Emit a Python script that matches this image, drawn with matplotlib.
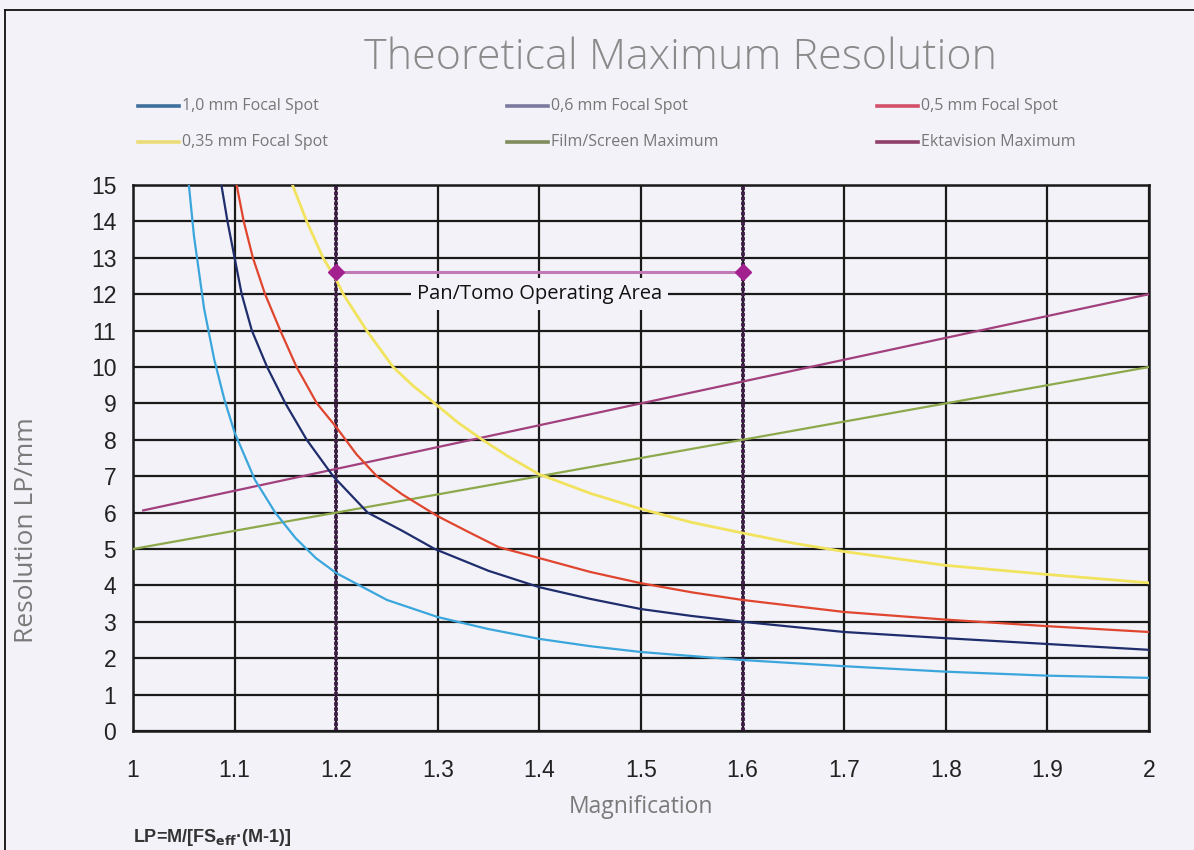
import matplotlib
matplotlib.use("Agg")
import matplotlib.pyplot as plt
from matplotlib.lines import Line2D

# ---------------- data ----------------
m_10 = [1.055, 1.06, 1.07, 1.08, 1.09, 1.10, 1.12, 1.14, 1.16, 1.18, 1.20, 1.25, 1.30,
        1.35, 1.40, 1.45, 1.50, 1.60, 1.70, 1.80, 1.90, 2.00]
lp_10 = [15.0, 13.6, 11.6, 10.2, 9.1, 8.2, 6.9, 6.0, 5.3, 4.75, 4.34, 3.6, 3.13,
         2.8, 2.53, 2.33, 2.17, 1.95, 1.78, 1.63, 1.52, 1.46]

m_06 = [1.087, 1.093, 1.10, 1.107, 1.117, 1.132, 1.15, 1.171, 1.197, 1.231, 1.265, 1.297,
        1.35, 1.40, 1.45, 1.50, 1.55, 1.60, 1.70, 1.80, 1.90, 2.00]
lp_06 = [15.0, 14.0, 13.0, 12.0, 11.0, 10.0, 9.0, 8.0, 7.0, 6.0, 5.5, 5.0,
         4.4, 3.95, 3.63, 3.35, 3.16, 3.0, 2.72, 2.55, 2.39, 2.23]

m_05 = [1.102, 1.109, 1.118, 1.130, 1.145, 1.161, 1.181, 1.20, 1.22, 1.24, 1.265, 1.30,
        1.33, 1.36, 1.40, 1.45, 1.50, 1.55, 1.60, 1.70, 1.80, 1.90, 2.00]
lp_05 = [15.0, 14.0, 13.0, 12.0, 11.0, 10.0, 9.0, 8.35, 7.6, 7.0, 6.5, 5.9,
         5.47, 5.05, 4.75, 4.37, 4.06, 3.81, 3.6, 3.27, 3.06, 2.88, 2.72]

m_035 = [1.157, 1.171, 1.187, 1.20, 1.207, 1.23, 1.256, 1.275, 1.297, 1.32, 1.344, 1.37,
         1.40, 1.45, 1.50, 1.55, 1.60, 1.65, 1.70, 1.80, 1.90, 2.00]
lp_035 = [15.0, 14.0, 13.0, 12.4, 12.0, 11.0, 10.0, 9.5, 9.0, 8.47, 8.0, 7.53,
          7.05, 6.53, 6.1, 5.73, 5.44, 5.16, 4.93, 4.55, 4.3, 4.07]

m_film = [1.0, 2.0]
lp_film = [5.0, 10.0]

m_ekta = [1.01, 2.0]
lp_ekta = [6.06, 12.0]

pan_tomo_m = [1.2, 1.6]
pan_tomo_lp = [12.6, 12.6]

x_ticks = [1.0, 1.1, 1.2, 1.3, 1.4, 1.5, 1.6, 1.7, 1.8, 1.9, 2.0]
x_tick_labels = ["1", "1.1", "1.2", "1.3", "1.4", "1.5", "1.6", "1.7", "1.8", "1.9", "2"]
y_ticks = list(range(0, 16))

series_labels = ["1,0 mm Focal Spot", "0,6 mm Focal Spot", "0,5 mm Focal Spot",
                 "0,35 mm Focal Spot", "Film/Screen Maximum", "Ektavision Maximum"]

# ---------------- style ----------------
BG = "#f2f2f8"
c_10, c_06, c_05, c_035 = "#3aa6dc", "#1f2d6c", "#e0452e", "#f2e35e"
c_film, c_ekta = "#8ea94c", "#a2407e"
legend_colors = ["#3f6f9c", "#7a7a9e", "#d4506a", "#ecdc78", "#808c5c", "#904068"]

W, H = 1194, 850
fig = plt.figure(figsize=(W / 100, H / 100), dpi=100, facecolor=BG)

ax = fig.add_axes([133 / W, 1 - 731 / H, (1149 - 133) / W, (731 - 185) / H])
ax.set_facecolor(BG)
ax.set_xlim(1.0, 2.0)
ax.set_ylim(0, 15)

# grid
ax.set_xticks(x_ticks)
ax.set_xticklabels(x_tick_labels)
ax.set_yticks(y_ticks)
ax.grid(True, color="#1a1a1a", linewidth=1.6, zorder=1)
ax.set_axisbelow(True)
for s in ax.spines.values():
    s.set_color("#1a1a1a")
    s.set_linewidth(1.8)
ax.tick_params(axis="both", length=0, labelsize=16.5, labelcolor="#222222")
ax.tick_params(axis="x", pad=20)
ax.tick_params(axis="y", pad=12)
for lab in ax.get_xticklabels() + ax.get_yticklabels():
    lab.set_fontfamily("Liberation Sans")

# operating area verticals
for xv in pan_tomo_m:
    ax.axvline(xv, color="#43204c", linewidth=2.8, linestyle=(0, (0.9, 0.4)), zorder=2)

# curves
lw = 1.6
ax.plot(m_film, lp_film, color=c_film, lw=lw, zorder=3)
ax.plot(m_ekta, lp_ekta, color=c_ekta, lw=lw, zorder=3)
ax.plot(m_035, lp_035, color=c_035, lw=2.0, zorder=3)
ax.plot(m_05, lp_05, color=c_05, lw=lw, zorder=3)
ax.plot(m_06, lp_06, color=c_06, lw=lw, zorder=3)
ax.plot(m_10, lp_10, color=c_10, lw=lw, zorder=3)

# pan/tomo bar
ax.plot(pan_tomo_m, pan_tomo_lp, color="#c07ab4", lw=2.2, zorder=4)
ax.plot(pan_tomo_m, pan_tomo_lp, linestyle="none", marker="D", markersize=8,
        color="#a3208f", zorder=5)
ax.text(1.4, 12.0, "Pan/Tomo Operating Area", ha="center", va="center",
        fontsize=14.5, family="Open Sans", color="#111111", zorder=6,
        bbox=dict(boxstyle="square,pad=0.3", fc=BG, ec="none"))

# title
fig.text(681 / W, 1 - 69 / H, "Theoretical Maximum Resolution", ha="center",
         va="baseline", fontsize=31, family="Open Sans", fontweight="light",
         color="#8a8a8a")

# legend (manual 3x2 layout)
col_x = [138, 507, 877]
row_y = [106, 142]
for i, (lab, col) in enumerate(zip(series_labels, legend_colors)):
    r, c = divmod(i, 3)
    x0 = col_x[c]
    y0 = row_y[r]
    fig.add_artist(Line2D([x0 / W, (x0 + 41) / W], [1 - y0 / H, 1 - y0 / H],
                          color=col, lw=2.6, transform=fig.transFigure))
    fig.text((x0 + 44) / W, 1 - y0 / H, lab, ha="left", va="center",
             fontsize=11.5, family="Open Sans", color="#777777")

# axis labels
fig.text(641 / W, 1 - 807 / H, "Magnification", ha="center", va="center",
         fontsize=16.5, family="Open Sans", color="#7a7a7a")
fig.text(27 / W, 1 - 530 / H, "Resolution LP/mm", ha="center", va="center",
         rotation=90, fontsize=19, family="Open Sans", color="#7a7a7a")

# formula
fig.text(133 / W, 1 - 837 / H, r"LP=M/[FS$_{\mathbf{eff}}$·(M-1)]", ha="left",
         va="center", fontsize=13, family="Liberation Sans", fontweight="bold",
         color="#333333")

# outer frame (top and left)
fig.add_artist(Line2D([5 / W, 1.0], [1 - 10 / H, 1 - 10 / H], color="#111111",
                      lw=1.3, transform=fig.transFigure))
fig.add_artist(Line2D([5 / W, 5 / W], [0.0, 1 - 10 / H], color="#111111",
                      lw=1.3, transform=fig.transFigure))

fig.savefig("out.png", dpi=100, facecolor=BG)
